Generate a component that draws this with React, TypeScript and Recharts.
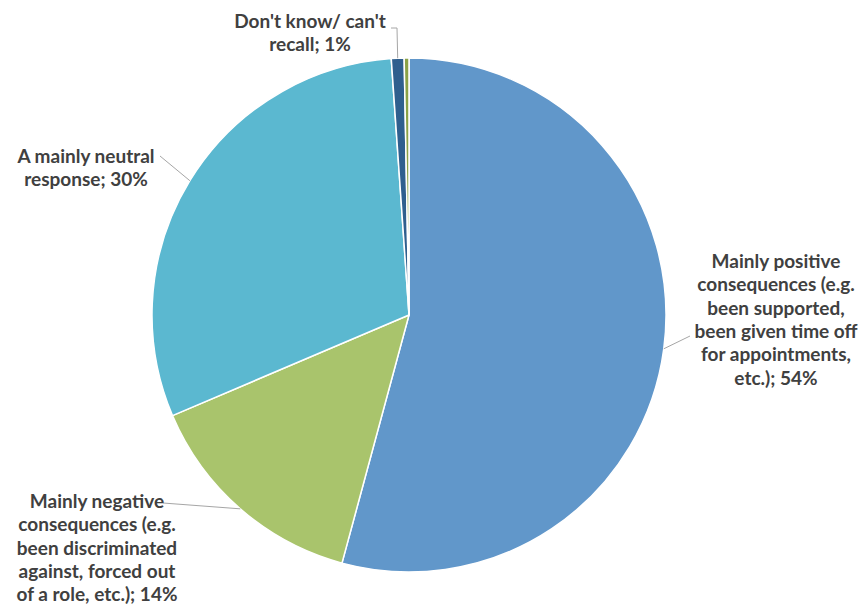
import React from "react";
import { PieChart, Pie, Cell } from "recharts";

const categories = [
  "Mainly positive consequences (e.g. been supported, been given time off for appointments, etc.)",
  "Mainly negative consequences (e.g. been discriminated against, forced out of a role, etc.)",
  "A mainly neutral response",
  "Don't know/ can't recall",
  "Other",
];
const values = [54.2, 14.4, 30.3, 0.8, 0.3];
const labelLines: string[][] = [
  ["Mainly positive", "consequences (e.g.", "been supported,", "been given time off", "for appointments,", "etc.); 54%"],
  ["Mainly negative", "consequences (e.g.", "been discriminated", "against, forced out", "of a role, etc.); 14%"],
  ["A mainly neutral", "response; 30%"],
  ["Don't know/ can't", "recall; 1%"],
  [],
];
const colors = ["#6197CA", "#A9C46C", "#5BB8D0", "#2F5F8E", "#8BA247"];

// label layout: text centre x, first line baseline y, leader end point(s)
const labelLayout = [
  { tx: 776, ty: 268, pts: [[690, 336]] },
  { tx: 97, ty: 508, pts: [[163, 503]] },
  { tx: 86, ty: 163, pts: [[160, 156]] },
  { tx: 310, ty: 28, pts: [[397, 28], [391, 28]] },
  null,
];

const data = categories.map((name, i) => ({ name, value: values[i] }));
const RADIAN = Math.PI / 180;
const LINE_H = 23.3;

const renderLabel = (props: any) => {
  const { cx, cy, midAngle, outerRadius, index } = props;
  const layout = labelLayout[index];
  if (!layout) return null;
  const ex = cx + outerRadius * Math.cos(-midAngle * RADIAN);
  const ey = cy + outerRadius * Math.sin(-midAngle * RADIAN);
  const pts = [[ex, ey], ...layout.pts];
  const d = pts.map((p, k) => `${k === 0 ? "M" : "L"}${p[0]},${p[1]}`).join(" ");
  return (
    <g key={`lbl-${index}`}>
      <path d={d} stroke="#A6A6A6" strokeWidth={1} fill="none" />
      <text
        x={layout.tx}
        y={layout.ty}
        textAnchor="middle"
        fill="#404040"
        fontFamily="Lato, 'Open Sans', sans-serif"
        fontWeight="bold"
        fontSize={19}
      >
        {labelLines[index].map((line, k) => (
          <tspan key={k} x={layout.tx} dy={k === 0 ? 0 : LINE_H}>
            {line}
          </tspan>
        ))}
      </text>
    </g>
  );
};

export default function App() {
  return (
    <div style={{ position: "absolute", left: 0, top: 0, background: "#fff" }}>
      <PieChart width={860} height={605} margin={{ top: 0, right: 0, bottom: 0, left: 0 }}>
        <Pie
          data={data}
          dataKey="value"
          nameKey="name"
          cx={409}
          cy={315}
          outerRadius={257}
          startAngle={90}
          endAngle={-270}
          stroke="#FFFFFF"
          strokeWidth={1.5}
          isAnimationActive={false}
          labelLine={false}
          label={renderLabel}
        >
          {data.map((_, i) => (
            <Cell key={i} fill={colors[i]} />
          ))}
        </Pie>
      </PieChart>
    </div>
  );
}
